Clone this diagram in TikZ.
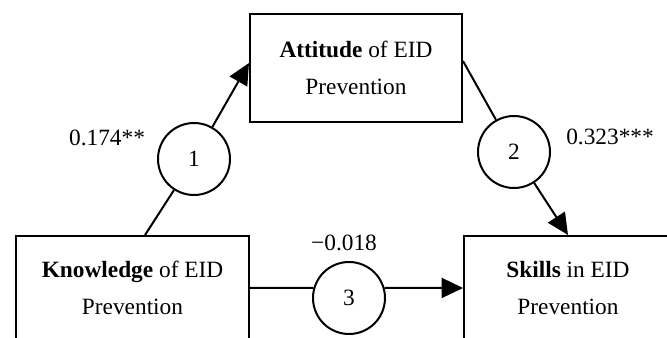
\documentclass[tikz,border=0pt]{standalone}
\usepackage{fontspec}
\setmainfont{Liberation Serif}
\usetikzlibrary{arrows.meta}

\newcommand{\PicW}{667}
\newcommand{\PicH}{338}
\newcommand{\Cdiam}{54pt}
\newcommand{\TxtSize}{\fontsize{17.5}{27.5}\selectfont}

\begin{document}
\begin{tikzpicture}[x=0.75pt, y=-0.75pt, line width=1.5pt,
    box/.style={draw, rectangle, align=center, font=\TxtSize, inner sep=0pt},
    med/.style={draw, circle, minimum size=\Cdiam, inner sep=0pt, font=\TxtSize},
    coef/.style={font=\TxtSize},
    >={Triangle[length=16pt, width=15pt]}]
    \useasboundingbox (0,0) rectangle (\PicW,\PicH);
    \clip (0,0) rectangle (\PicW,\PicH);

    % the three constructs
    \node[box, minimum width=159pt, minimum height=81pt] (a) at (356,68) {\textbf{Attitude} of EID\\Prevention};
    \node[box, minimum width=174.75pt, minimum height=78pt] (k) at (132.5,288) {\textbf{Knowledge} of EID\\Prevention};
    \node[box, minimum width=156pt, minimum height=78pt] (s) at (568,288) {\textbf{Skills} in EID\\Prevention};

    % path markers
    \node[med] (c1) at (194,159) {1};
    \node[med] (c2) at (514,152) {2};
    \node[med] (c3) at (349,298) {3};

    \coordinate (k1) at ([xshift=9.4pt]k.north);
    \coordinate (a1) at ([yshift=3.75pt]a.west);
    \coordinate (a2) at ([yshift=5.25pt]a.east);

    \draw (k1) -- (c1);
    \draw[->] (c1) -- (a1);
    \draw (a2) -- (c2);
    \draw[->] (c2) -- (s.north);
    \draw (k.east) -- (c3.164);
    \draw[->] (c3.16) -- (s.west);

    % coefficients
    \node[coef] (b1) at (107,138) {0.174**};
    \node[coef] (b2) at (610,137) {0.323***};
    \node[coef] (b3) at (344,243) {−0.018};
\end{tikzpicture}
\end{document}
